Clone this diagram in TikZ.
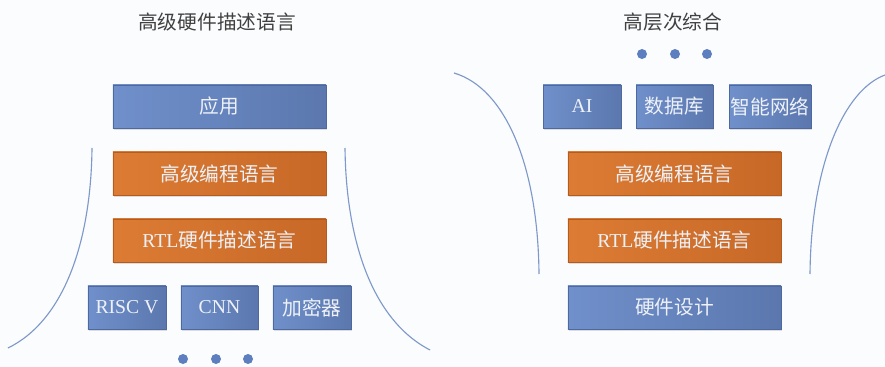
\documentclass[tikz,border=0pt]{standalone}
\usepackage{fontspec}
\setmainfont{Liberation Serif}
\newfontfamily\cjk{Noto Sans CJK SC}
\usepackage{xcolor}
\usepackage{tikz}
\usetikzlibrary{positioning,shadows}

\definecolor{bgpaper}{HTML}{FBFCFE}
\definecolor{blueL}{HTML}{7090CB}
\definecolor{blueR}{HTML}{5B77AE}
\definecolor{blueedge}{HTML}{4E69A0}
\definecolor{orangeL}{HTML}{DC7C34}
\definecolor{orangeR}{HTML}{C76827}
\definecolor{orangeedge}{HTML}{B35C20}
\definecolor{boxtext}{HTML}{EEF2F8}
\definecolor{curveblue}{HTML}{7E98CA}
\definecolor{dotblue}{HTML}{5D7FC0}

\begin{document}
\begin{tikzpicture}[x=0.025cm,y=-0.025cm,
  layer/.style={minimum height=1.075cm,inner sep=0pt,text=boxtext,
    font=\fontsize{14}{16}\selectfont,
    drop shadow={shadow xshift=1pt,shadow yshift=-1.2pt,opacity=.25,fill=gray}},
  bluebox/.style={layer,draw=blueedge,left color=blueL,right color=blueR},
  orangebox/.style={layer,draw=orangeedge,left color=orangeL,right color=orangeR},
  title/.style={text=black!75,font=\fontsize{14}{16}\selectfont},
  funnel/.style={draw=curveblue,line width=.8pt}]
\fill[bgpaper] (0,0) rectangle (885,367);
\useasboundingbox (0,0) rectangle (885,367);

% left: high level HDL
\node[title] (ltitle) at (217,22) {\cjk 高级硬件描述语言};
\node[bluebox,minimum width=5.325cm] (app) at (219.5,106.5) {\cjk 应用};
\node[orangebox,minimum width=5.325cm] (lhll) at (219.5,173.5) {\cjk 高级编程语言};
\node[orangebox,minimum width=5.325cm] (lrtl) at (219.5,240.5) {RTL{\cjk 硬件描述语言}};
\node[bluebox,minimum width=1.95cm] (risc) at (127,307.5) {RISC V};
\node[bluebox,minimum width=1.925cm] (cnn) at (219.5,307.5) {CNN};
\node[bluebox,minimum width=1.95cm] (crypt) at (312,307.5) {\cjk 加密器};
\foreach \x in {183,216,248}
  \fill[dotblue] (\x,359) circle (5);
\draw[funnel] (92,148) .. controls (91,240) and (65,320) .. (8,348);
\draw[funnel] (345,148) .. controls (346,240) and (372,320) .. (430,350);

% right: HLS
\node[title] (rtitle) at (673,22) {\cjk 高层次综合};
\foreach \x in {642,675,707}
  \fill[dotblue] (\x,54) circle (5);
\node[bluebox,minimum width=1.95cm] (ai) at (582,106.5) {AI};
\node[bluebox,minimum width=1.925cm] (db) at (674.5,106.5) {\cjk 数据库};
\node[bluebox,minimum width=2.05cm] (net) at (770,106.5) {\cjk 智能网络};
\node[orangebox,minimum width=5.325cm] (rhll) at (674.5,173.5) {\cjk 高级编程语言};
\node[orangebox,minimum width=5.325cm] (rrtl) at (674.5,240.5) {RTL{\cjk 硬件描述语言}};
\node[bluebox,minimum width=5.325cm] (hw) at (674.5,307.5) {\cjk 硬件设计};
\draw[funnel] (454,73) .. controls (505,88) and (538,165) .. (539,274);
\draw[funnel] (885,75) .. controls (844,90) and (811,165) .. (810,274);
\end{tikzpicture}
\end{document}
